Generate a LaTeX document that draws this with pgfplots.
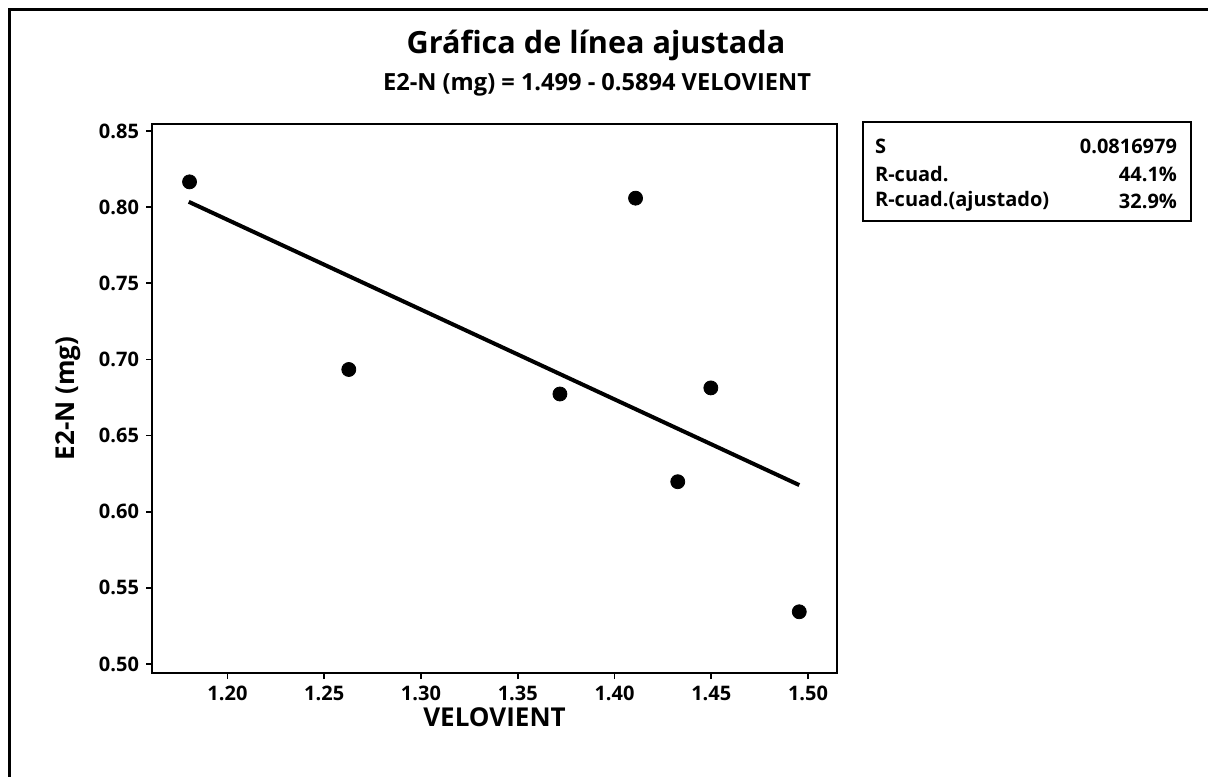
\documentclass[border=0pt]{standalone}
\usepackage{fontspec}
\setmainfont{Open Sans}
\usepackage{pgfplots}
\pgfplotsset{compat=1.18}
\begin{document}
\begin{tikzpicture}[x=0.5pt,y=0.5pt]
\useasboundingbox (0,0) rectangle (1208,776);
\draw[line width=1.5pt] (9,-10) -- (9,766) -- (1220,766);
\node[font=\fontsize{15.3}{18}\selectfont\bfseries] at (596,731) {Gráfica de línea ajustada};
\node[font=\fontsize{11.8}{14}\selectfont\bfseries] at (597,691) {E2-N (mg) = 1.499 - 0.5894 VELOVIENT};
\begin{axis}[
  at={(76pt,51.5pt)}, anchor=south west,
  scale only axis, width=342.5pt, height=274.5pt,
  xmin=1.161, xmax=1.515, ymin=0.4941, ymax=0.8546,
  xtick={1.20,1.25,1.30,1.35,1.40,1.45,1.50},
  xticklabels={1.20,1.25,1.30,1.35,1.40,1.45,1.50},
  ytick={0.50,0.55,0.60,0.65,0.70,0.75,0.80,0.85},
  yticklabels={0.50,0.55,0.60,0.65,0.70,0.75,0.80,0.85},
  tick align=outside, tick pos=left, major tick length=3pt,
  tick style={black, line width=0.8pt},
  axis line style={black, line width=1pt},
  ticklabel style={font=\fontsize{10}{11}\selectfont\bfseries},
  xlabel={VELOVIENT}, ylabel={E2-N (mg)},
  label style={font=\fontsize{13}{15}\selectfont\bfseries},
  x label style={at={(axis description cs:0.5,-0.08)}, anchor=center},
  y label style={at={(axis description cs:-0.122,0.5)}, anchor=center, rotate=0},
]
\addplot[black, line width=2pt] coordinates {(1.18,0.8035) (1.4955,0.6175)};
\addplot[only marks, mark=*, mark size=3.5pt, black] coordinates {
  (1.1804,0.8166) (1.2627,0.6934) (1.3718,0.6773) (1.4109,0.8059)
  (1.4327,0.6197) (1.4498,0.6813) (1.4955,0.5343)};
\end{axis}
\draw[line width=1pt] (863,555) rectangle (1191,654);
\begin{scope}[font=\fontsize{10}{11}\selectfont\bfseries]
\node[anchor=west] at (868,630) {S};
\node[anchor=east] at (1184,630) {0.0816979};
\node[anchor=west] at (868,602) {R-cuad.};
\node[anchor=east] at (1184,602) {44.1\%};
\node[anchor=west] at (868,575) {R-cuad.(ajustado)};
\node[anchor=east] at (1184,575) {32.9\%};
\end{scope}
\end{tikzpicture}
\end{document}
